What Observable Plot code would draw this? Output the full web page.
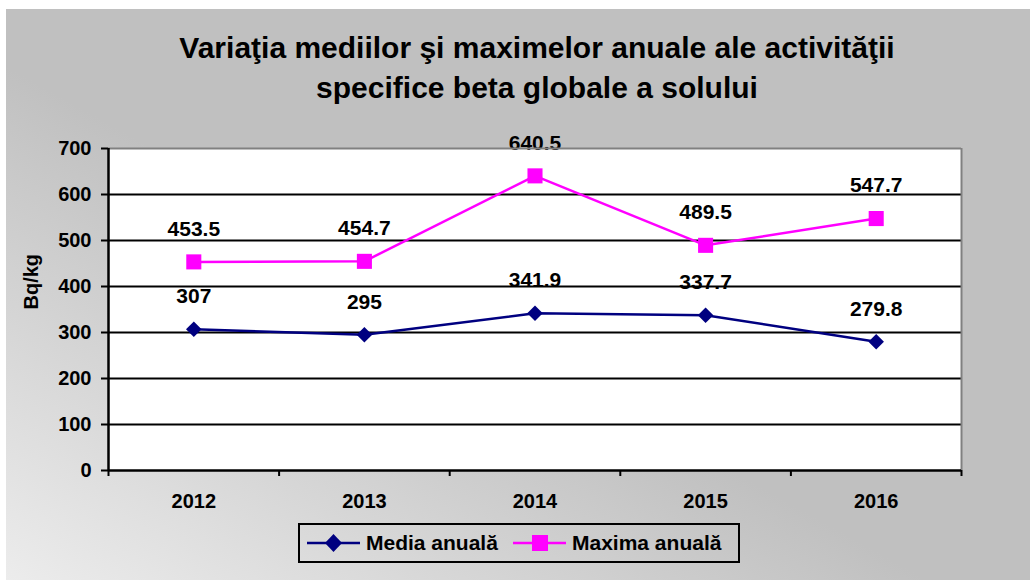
<!DOCTYPE html>
<html><head><meta charset="utf-8">
<script src="https://cdn.jsdelivr.net/npm/d3@7"></script>
<script src="https://cdn.jsdelivr.net/npm/@observablehq/plot@0.6"></script>
<style>
body{margin:0;background:#fff;font-family:"Liberation Sans",Arial,sans-serif;}
#chart{position:absolute;left:6px;top:9px;width:1024px;height:571px;background:linear-gradient(to top right,#ececec 0%,#c0c0c0 45%);overflow:hidden;}
#title{position:absolute;left:0;top:19px;width:1062px;text-align:center;font-size:30px;font-weight:bold;line-height:40px;color:#000;}
#plot{position:absolute;left:0;top:111px;}
#legend{position:absolute;left:292px;top:514px;width:442px;height:40px;box-sizing:border-box;border:2px solid #000;}
.item{position:absolute;top:0;height:36px;display:flex;align-items:center;font-size:21px;font-weight:bold;color:#000;}
.sw{position:absolute;top:8px;}
</style></head>
<body>
<div id="chart">
  <div id="title"></div>
  <div id="plot"></div>
  <div id="legend"></div>
</div>
<script>
const years = [2012, 2013, 2014, 2015, 2016];
const media = [307, 295, 341.9, 337.7, 279.8];
const maxima = [453.5, 454.7, 640.5, 489.5, 547.7];
const yTicks = [0, 100, 200, 300, 400, 500, 600, 700];
const seriesNames = ["Media anuală", "Maxima anuală"];
const seriesColors = ["#000080", "#ff00ff"];
const yLabel = "Bq/kg";
const titleLines = ["Variaţia mediilor şi maximelor anuale ale activităţii", "specifice beta globale a solului"];

const mediaRows = years.map((year, i) => ({year, value: media[i]}));
const maximaRows = years.map((year, i) => ({year, value: maxima[i]}));
const edges = years.map(y => y - 0.5).concat([years[years.length - 1] + 0.5]);
const yMax = yTicks[yTicks.length - 1];
const gridValues = yTicks.filter(v => v > 0 && v < yMax);

document.getElementById("title").innerHTML = titleLines.join("<br>");

const chart = Plot.plot({
  width: 1024,
  height: 395,
  marginLeft: 102,
  marginRight: 69,
  marginTop: 28,
  marginBottom: 45,
  style: {fontFamily: "Liberation Sans, Arial, sans-serif", fontSize: "20px", fontWeight: "bold", color: "#000", background: "transparent", overflow: "visible"},
  x: {type: "linear", domain: [edges[0], edges[edges.length - 1]]},
  y: {domain: [0, yMax]},
  marks: [
    Plot.frame({fill: "white", stroke: "none"}),
    Plot.text(mediaRows, {x: "year", y: "value", text: d => String(d.value), dy: -33, fill: "#000", fontSize: 21}),
    Plot.text(maximaRows, {x: "year", y: "value", text: d => String(d.value), dy: -33, fill: "#000", fontSize: 21}),
    Plot.ruleY(gridValues, {stroke: "#000", strokeWidth: 2}),
    Plot.ruleY([yMax], {stroke: "#808080", strokeWidth: 2}),
    Plot.ruleX([edges[edges.length - 1]], {stroke: "#808080", strokeWidth: 2}),
    Plot.ruleY([0], {stroke: "#000", strokeWidth: 2.5}),
    Plot.ruleX([edges[0]], {stroke: "#000", strokeWidth: 2.5}),
    Plot.axisY({ticks: yTicks, tickSize: 7, tickPadding: 10, stroke: "#000", strokeWidth: 2, label: null, tickFormat: d => String(d)}),
    Plot.axisX({ticks: edges, tickSize: 6, stroke: "#000", strokeWidth: 2, tickFormat: () => "", label: null}),
    Plot.axisX({ticks: years, tickSize: 0, tickPadding: 23, tickFormat: d => String(d), label: null}),
    Plot.text([yLabel], {frameAnchor: "left", rotate: -90, dx: -77, text: d => d, fill: "#000"}),
    Plot.line(mediaRows, {x: "year", y: "value", stroke: seriesColors[0], strokeWidth: 2.5}),
    Plot.dot(mediaRows, {x: "year", y: "value", symbol: "diamond2", r: 7, fill: seriesColors[0], stroke: "none"}),
    Plot.line(maximaRows, {x: "year", y: "value", stroke: seriesColors[1], strokeWidth: 2.5}),
    Plot.dot(maximaRows, {x: "year", y: "value", symbol: "square", r: 8.5, fill: seriesColors[1], stroke: "none"})
  ]
});
document.getElementById("plot").appendChild(chart);

// legend
const legend = document.getElementById("legend");
const swX = [7, 213];
const txtX = [66, 272];
seriesNames.forEach((name, i) => {
  const ns = "http://www.w3.org/2000/svg";
  const svg = document.createElementNS(ns, "svg");
  svg.setAttribute("width", 53); svg.setAttribute("height", 20);
  svg.setAttribute("class", "sw");
  svg.style.left = swX[i] + "px";
  const line = document.createElementNS(ns, "line");
  line.setAttribute("x1", 0); line.setAttribute("x2", 53);
  line.setAttribute("y1", 10); line.setAttribute("y2", 10);
  line.setAttribute("stroke", seriesColors[i]); line.setAttribute("stroke-width", 2.5);
  svg.appendChild(line);
  let m;
  if (i === 0) {
    m = document.createElementNS(ns, "polygon");
    m.setAttribute("points", "26.5,1 35,10 26.5,19 18,10");
  } else {
    m = document.createElementNS(ns, "rect");
    m.setAttribute("x", 19); m.setAttribute("y", 2); m.setAttribute("width", 16); m.setAttribute("height", 16);
  }
  m.setAttribute("fill", seriesColors[i]);
  svg.appendChild(m);
  legend.appendChild(svg);
  const t = document.createElement("div");
  t.className = "item";
  t.style.left = txtX[i] + "px";
  t.textContent = name;
  legend.appendChild(t);
});
</script>
</body></html>
